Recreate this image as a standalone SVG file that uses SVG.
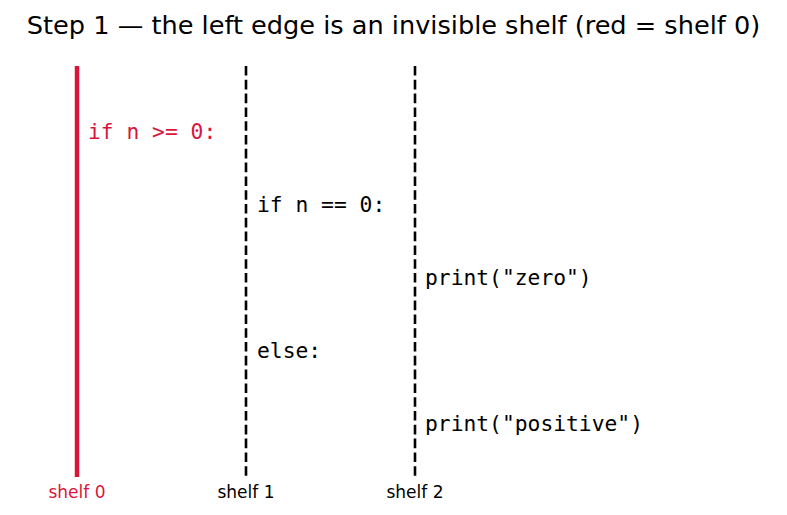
<svg xmlns="http://www.w3.org/2000/svg" width="787" height="515" viewBox="0 0 787 515">
<style>
.title{font-family:"DejaVu Sans",sans-serif;font-size:25.6px;fill:#000}
.code{font-family:"DejaVu Sans Mono",monospace;font-size:21.3px;fill:#000}
.lbl{font-family:"DejaVu Sans",sans-serif;font-size:17px;fill:#000;text-anchor:middle}
.red{fill:#dc143c}
.shelf{stroke:#000;stroke-width:2.6;stroke-dasharray:9.6 4.2;fill:none}
</style>
<rect width="787" height="515" fill="#fff"/>
<text class="title" x="393.5" y="34" text-anchor="middle">Step 1 — the left edge is an invisible shelf (red = shelf 0)</text>
<g id="connectors">
<line x1="77" y1="66" x2="77" y2="477" stroke="#dc143c" stroke-width="4.5"/>
<line class="shelf" x1="246" y1="66" x2="246" y2="477"/>
<line class="shelf" x1="415" y1="66" x2="415" y2="477"/>
</g>
<g id="line1"><text class="code red" x="88" y="139">if n &gt;= 0:</text></g>
<g id="line2"><text class="code" x="257" y="212">if n == 0:</text></g>
<g id="line3"><text class="code" x="425" y="285">print("zero")</text></g>
<g id="line4"><text class="code" x="257" y="358">else:</text></g>
<g id="line5"><text class="code" x="425" y="431">print("positive")</text></g>
<g id="labels">
<text class="lbl red" x="77" y="498">shelf 0</text>
<text class="lbl" x="246" y="498">shelf 1</text>
<text class="lbl" x="415" y="498">shelf 2</text>
</g>
</svg>
